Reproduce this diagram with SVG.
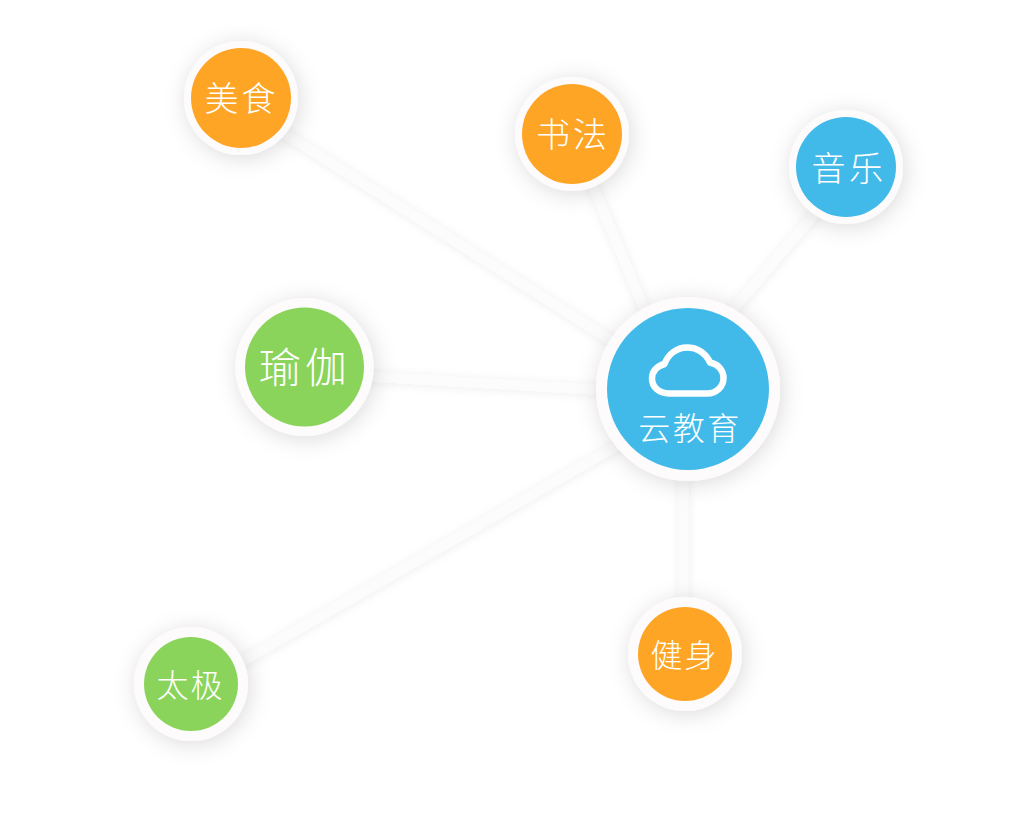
<svg xmlns="http://www.w3.org/2000/svg" width="1024" height="834" viewBox="0 0 1024 834">
<style>
.ring{fill:#fdfbfc;filter:url(#s)}
.o{fill:#ffa526}.b{fill:#42bae9}.g{fill:#8bd45c}
.l{stroke:#fdfcfc;stroke-width:9.500;fill:none}
text{fill:#fff;font-family:"Noto Sans CJK SC","Noto Sans",sans-serif;font-weight:300;text-anchor:middle;dominant-baseline:central}
</style>
<defs>
<filter id="s" x="-50%" y="-50%" width="200%" height="200%"><feDropShadow dx="2" dy="3" stdDeviation="11" flood-color="#000" flood-opacity="0.14"/></filter>
<filter id="ls" filterUnits="userSpaceOnUse" x="0" y="0" width="1024" height="834"><feDropShadow dx="0.500" dy="1" stdDeviation="5" flood-color="#000" flood-opacity="0.07"/></filter>
</defs>
<g id="connectors" filter="url(#ls)">
<path class="l" d="M241 106L688 389"/>
<path class="l" d="M571 134L678 389"/>
<path class="l" d="M855 167L688 362"/>
<path class="l" d="M304 373L688 395"/>
<path class="l" d="M191 691L688 405"/>
<path class="l" d="M683.500 389V654"/>
</g>
<g id="n-meishi"><circle class="ring" cx="241" cy="98" r="57"/><circle class="o" cx="241" cy="98" r="50"/><text x="241.500" y="96" font-size="34" letter-spacing="3">美食</text></g>
<g id="n-shufa"><circle class="ring" cx="572" cy="134" r="57"/><circle class="o" cx="572" cy="134" r="50"/><text x="573" y="132" font-size="34" letter-spacing="3">书法</text></g>
<g id="n-yinyue"><circle class="ring" cx="846" cy="167" r="57"/><circle class="b" cx="846" cy="167" r="50"/><text x="849" y="166" font-size="34" letter-spacing="3.500">音乐</text></g>
<g id="n-yujia"><circle class="ring" cx="304.500" cy="367" r="69"/><circle class="g" cx="304.500" cy="367" r="59.500"/><text x="305" y="364" font-size="42" letter-spacing="4">瑜伽</text></g>
<g id="n-taiji"><circle class="ring" cx="191" cy="684" r="57"/><circle class="g" cx="191" cy="684" r="47"/><text x="190.500" y="683" font-size="32" letter-spacing="2">太极</text></g>
<g id="n-jianshen"><circle class="ring" cx="685" cy="654" r="57"/><circle class="o" cx="685" cy="654" r="47"/><text x="684.500" y="653" font-size="32" letter-spacing="2">健身</text></g>
<g id="n-center"><circle class="ring" cx="688" cy="389" r="92"/><circle class="b" cx="688" cy="389" r="81"/>
<path d="M669 393.500H707C716 393.500 723.500 387 723.500 378C723.500 370 718 364 710 362.500C706 353 697 347.500 687 347.500C677 347.500 668 354 664.500 364C657 366 652 371 652 378.500C652 387 659 393.500 669 393.500Z" fill="none" stroke="#fff" stroke-width="6.500" stroke-linejoin="round"/>
<text x="690" y="426" font-size="32" letter-spacing="2.500">云教育</text></g>
</svg>
